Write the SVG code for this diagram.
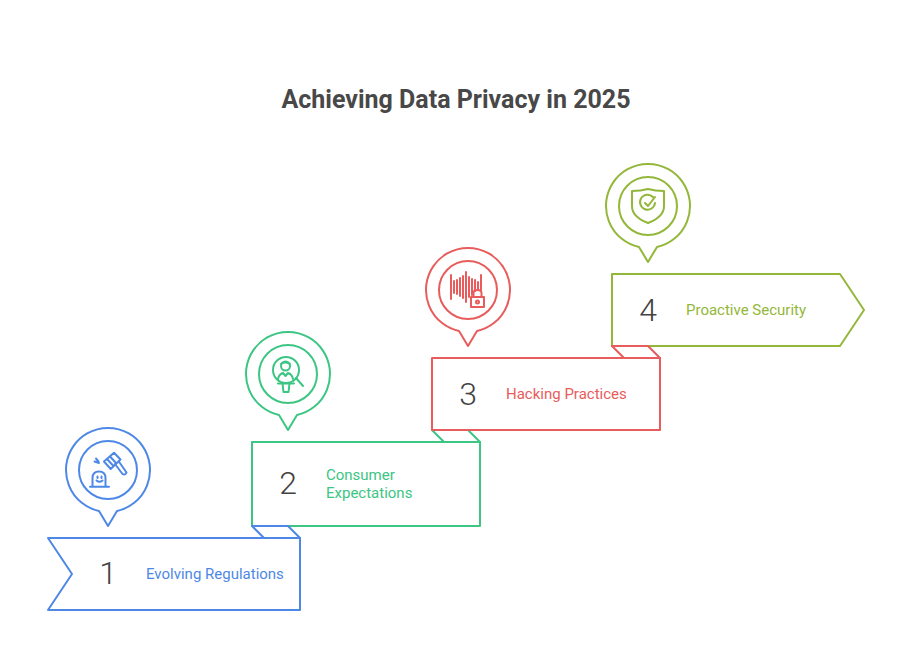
<svg xmlns="http://www.w3.org/2000/svg" width="912" height="667" viewBox="0 0 912 667">
<style>
text{font-family:Roboto,"Liberation Sans",sans-serif}
.s{fill:none;stroke-width:2;stroke-linejoin:round;stroke-linecap:round}
.t{stroke-width:2}
.title{font-size:25px;font-weight:700;fill:#484848}
.num{font-size:32px;font-weight:300;fill:#434343}
.lab{font-size:15px}
.b{stroke:#4e88e7}.bf{fill:#4e88e7}
.g{stroke:#3cc583}.gf{fill:#3cc583}
.r{stroke:#e85c5c}.rf{fill:#e85c5c}
.o{stroke:#93b739}.of{fill:#93b739}
</style>
<defs>
<g id="pin">
<path d="M-9 41A42 42 0 1 1 9 41L0 56Z"/>
<circle r="29"/>
</g>
</defs>
<rect width="912" height="667" fill="#fff"/>
<text class="title" x="456" y="108" text-anchor="middle">Achieving Data Privacy in 2025</text>
<g id="step4">
<path class="s o" d="M612 274H840L864 310L840 346H612Z"/>
<use href="#pin" class="s o" x="648" y="206"/>
<path class="s t o" d="M632 191Q641 191 648 189Q655 191 664 191V206Q664 217 648 223Q632 217 632 206Z"/>
<path class="s t o" d="M653 197A7.500 7.500 0 1 0 655 203M645 203L648 206L655 197"/>
<text class="num" x="648" y="321" text-anchor="middle">4</text>
<text class="lab of" x="686" y="315">Proactive Security</text>
</g>
<g id="step2">
<path class="s g" d="M252 442H480V526H252Z"/>
<path class="s g" d="M432 430L444 442H480L468 430Z"/>
<use href="#pin" class="s g" x="288" y="374"/>
<circle class="s t g" cx="286" cy="370" r="13"/>
<circle class="s t g" cx="285.500" cy="366" r="4.500"/>
<path class="s t g" d="M281 364Q285 361 290 364M278 379Q279 374 283 373L285.500 376L288 373Q292 374 293 379M296 378L303 386M278 383.500H294M282.500 383.500L283.500 392H288.500L289.500 383.500"/>
<text class="num" x="288" y="494" text-anchor="middle">2</text>
<text class="lab gf"><tspan x="326" y="480">Consumer</tspan><tspan x="326" y="498">Expectations</tspan></text>
</g>
<g id="step3">
<path class="s r" d="M432 358H660V430H432Z"/>
<path class="s r" d="M612 346L624 358H660L648 346Z"/>
<use href="#pin" class="s r" x="468" y="290"/>
<path class="s t r" d="M451 275V299M454 281V293M457 280V294M460 278V296M463 276V298M466 272V302M469 277V297M472 279V295M475 280V291M478 282V289M481 275V290"/>
<path class="s t r" d="M471 297H484V307H471ZM473.500 297V293Q473.500 290 477.500 290Q481.500 290 481.500 293V297"/>
<circle class="s t r" cx="477.500" cy="302" r="1.500"/>
<text class="num" x="468" y="405" text-anchor="middle">3</text>
<text class="lab rf" x="506" y="399">Hacking Practices</text>
</g>
<g id="step1">
<path class="s b" d="M48 538H300V610H48L72 574Z"/>
<path class="s b" d="M252 526L264 538H300L288 526Z"/>
<use href="#pin" class="s b" x="108" y="470"/>
<path class="s t b" d="M104 461.500L114 452.700L120.500 459.500L110.700 469ZM107 459L113 465.500M110 456.500L116 463M115 464L122.500 474Q125 475.500 126.500 472.500L118.500 461"/>
<path class="s t b" d="M94.500 461.500L99 463M96 458.500L98.500 461.500M92.500 486.500V478Q92.500 471.500 99 471.500Q105.500 471.500 105.500 478V486.500M90 486.700H109M97.500 476.500V478M101.500 476.500V478M96.500 480.500Q99.500 483 102.500 480.500"/>
<text class="num" x="108" y="584" text-anchor="middle">1</text>
<text class="lab bf" x="146" y="579">Evolving Regulations</text>
</g>
</svg>
